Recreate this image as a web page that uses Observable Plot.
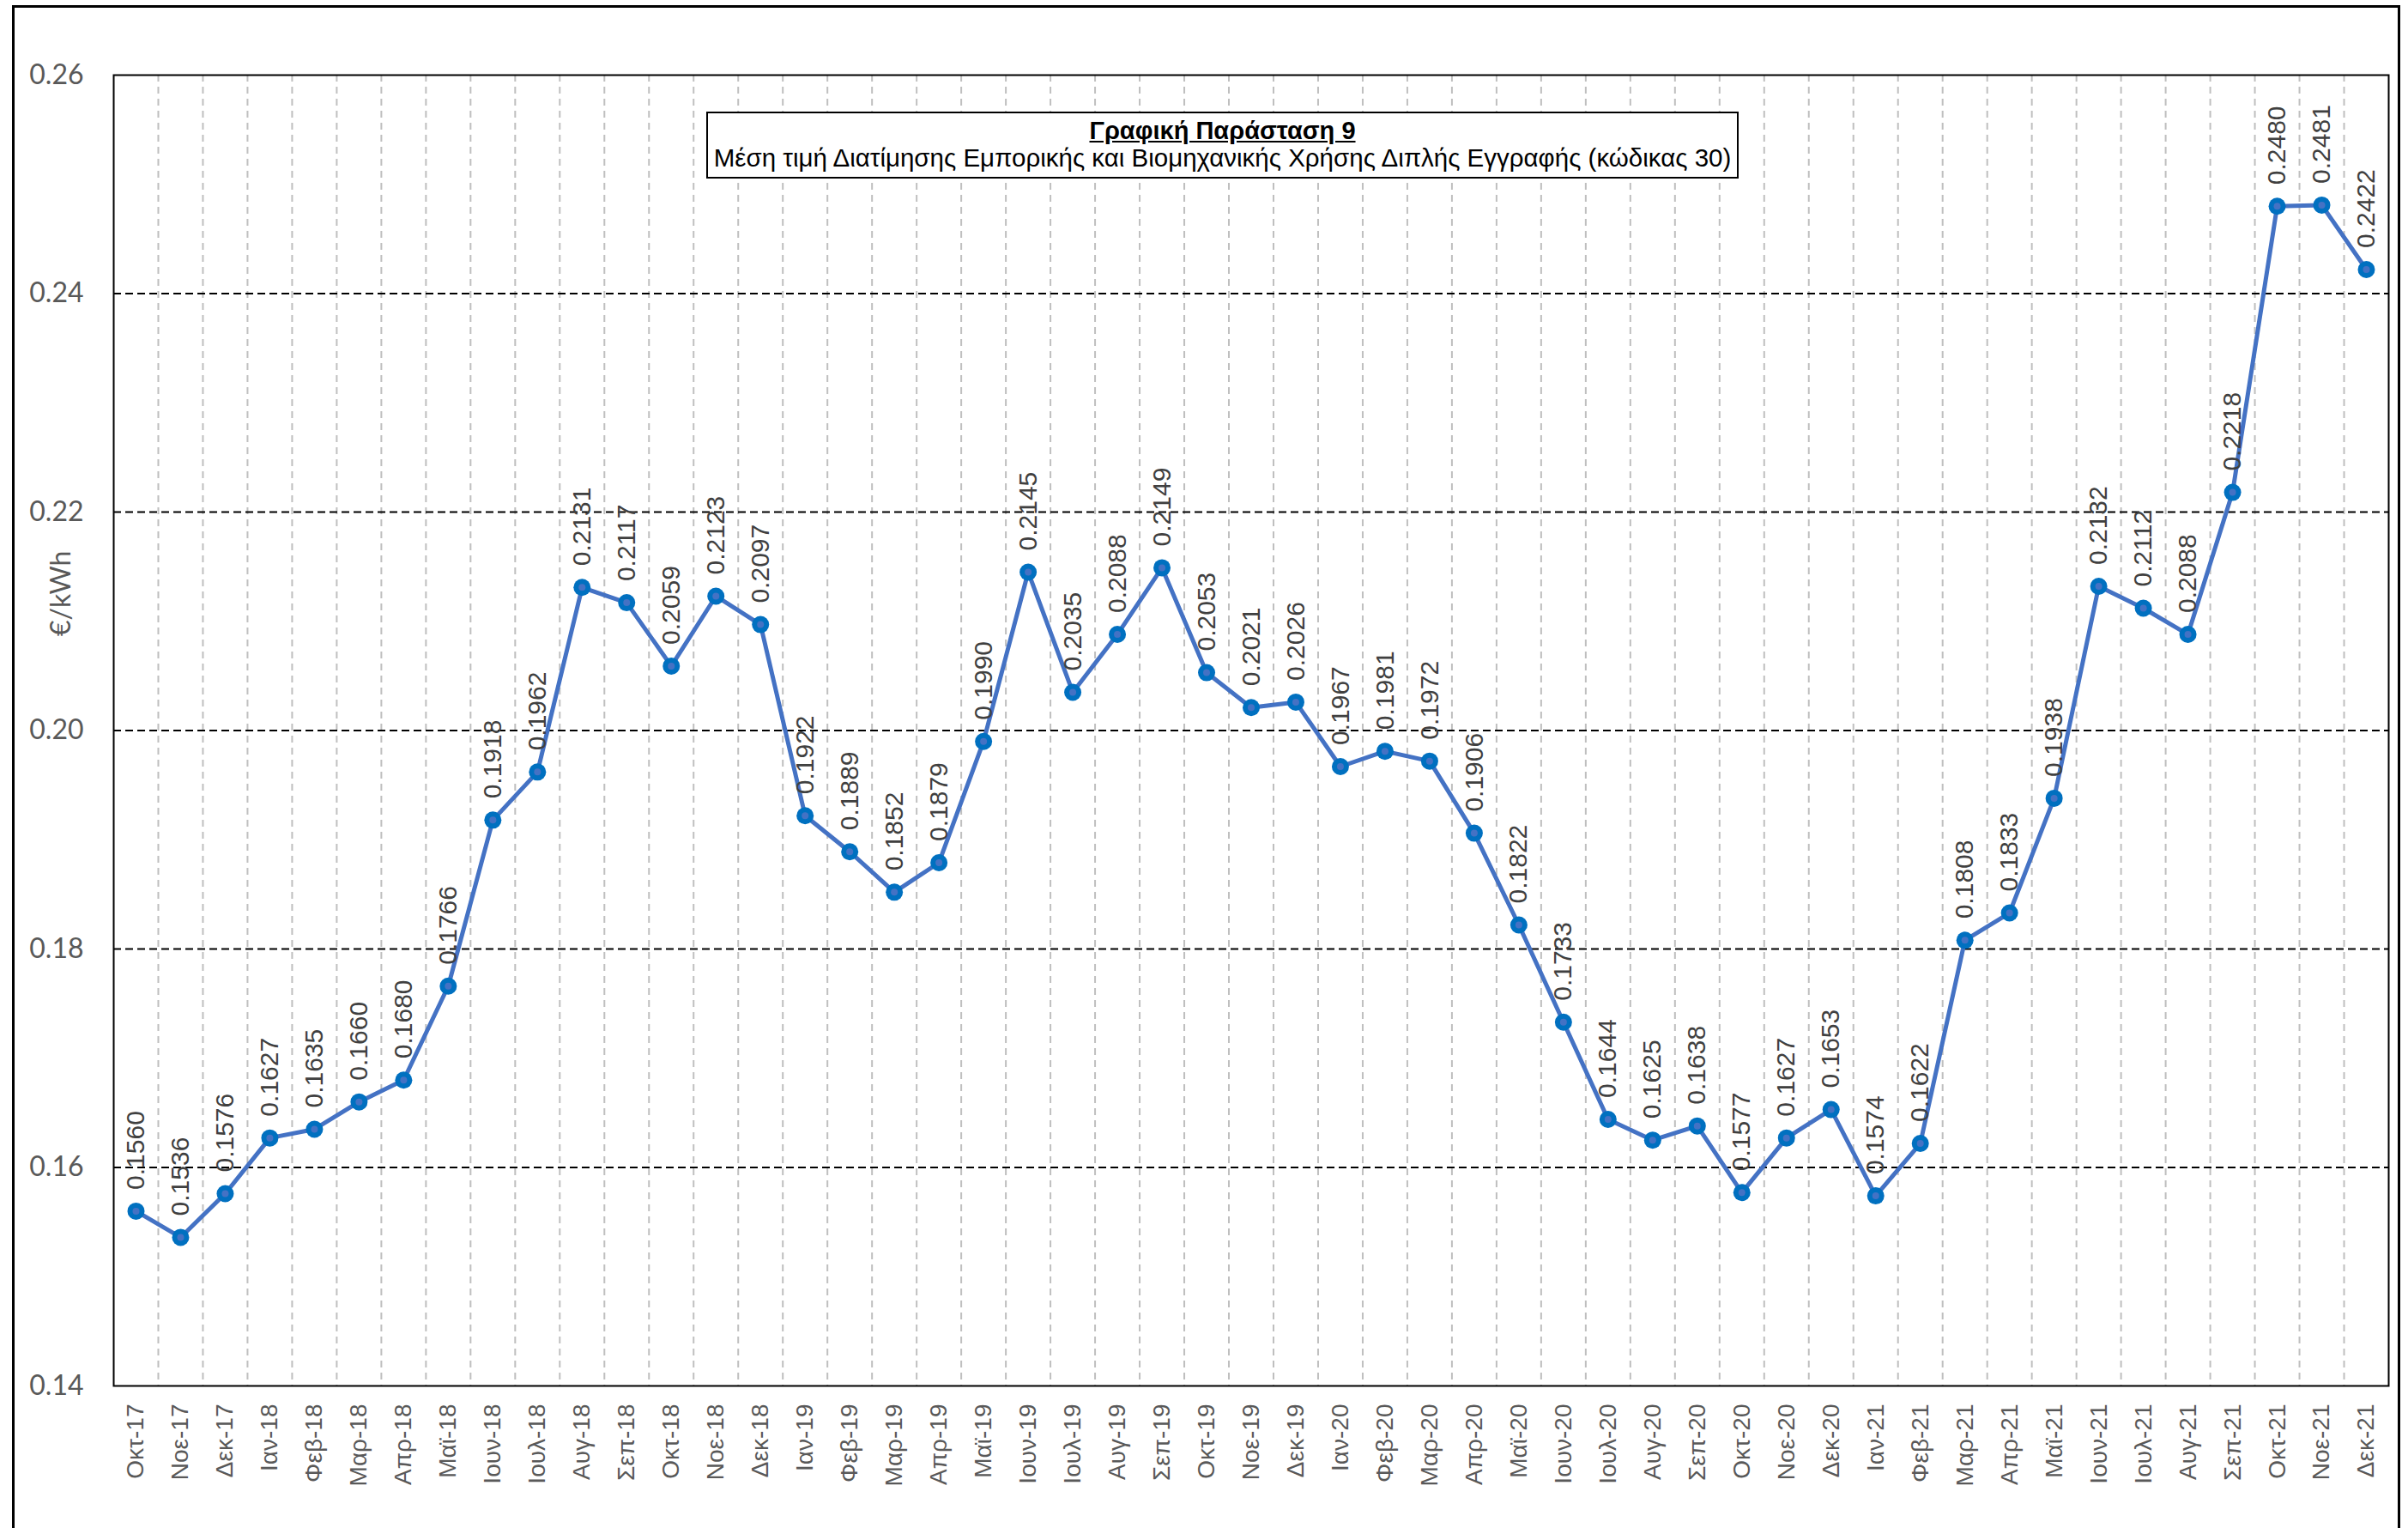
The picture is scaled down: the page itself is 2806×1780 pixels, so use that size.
<!DOCTYPE html>
<html><head><meta charset="utf-8">
<script src="https://cdn.jsdelivr.net/npm/d3@7"></script>
<script src="https://cdn.jsdelivr.net/npm/@observablehq/plot@0.6"></script>
<style>
html,body{margin:0;padding:0;background:#fff;overflow:hidden;}
#wrap{position:relative;width:2806px;height:1780px;}
#chart{position:absolute;left:0;top:0;}
#border{position:absolute;left:14px;top:6px;width:2783px;height:1800px;border:3px solid #000;box-sizing:border-box;pointer-events:none;}
#title{position:absolute;left:823px;top:130px;width:1203px;height:78px;border:2px solid #000;box-sizing:border-box;background:#fff;text-align:center;font-family:"Liberation Sans",Arial,sans-serif;color:#000;}
#t1{font-weight:bold;text-decoration:underline;font-size:29px;line-height:31px;margin-top:5px;}
#t2{font-size:29.5px;line-height:32px;white-space:nowrap;}
</style></head><body>
<div id="wrap"><div id="chart"></div><div id="border"></div>
<div id="title"><div id="t1">Γραφική Παράσταση 9</div><div id="t2">Μέση τιμή Διατίμησης Εμπορικής και Βιομηχανικής Χρήσης Διπλής Εγγραφής (κώδικας 30)</div></div>
</div>
<script>
const months = ["Οκτ-17","Νοε-17","Δεκ-17",
"Ιαν-18","Φεβ-18","Μαρ-18","Απρ-18","Μαϊ-18","Ιουν-18","Ιουλ-18","Αυγ-18","Σεπ-18","Οκτ-18","Νοε-18","Δεκ-18",
"Ιαν-19","Φεβ-19","Μαρ-19","Απρ-19","Μαϊ-19","Ιουν-19","Ιουλ-19","Αυγ-19","Σεπ-19","Οκτ-19","Νοε-19","Δεκ-19",
"Ιαν-20","Φεβ-20","Μαρ-20","Απρ-20","Μαϊ-20","Ιουν-20","Ιουλ-20","Αυγ-20","Σεπ-20","Οκτ-20","Νοε-20","Δεκ-20",
"Ιαν-21","Φεβ-21","Μαρ-21","Απρ-21","Μαϊ-21","Ιουν-21","Ιουλ-21","Αυγ-21","Σεπ-21","Οκτ-21","Νοε-21","Δεκ-21"];
const values = [0.1560,0.1536,0.1576,
0.1627,0.1635,0.1660,0.1680,0.1766,0.1918,0.1962,0.2131,0.2117,0.2059,0.2123,0.2097,
0.1922,0.1889,0.1852,0.1879,0.1990,0.2145,0.2035,0.2088,0.2149,0.2053,0.2021,0.2026,
0.1967,0.1981,0.1972,0.1906,0.1822,0.1733,0.1644,0.1625,0.1638,0.1577,0.1627,0.1653,
0.1574,0.1622,0.1808,0.1833,0.1938,0.2132,0.2112,0.2088,0.2218,0.2480,0.2481,0.2422];
const yTicks = [0.14,0.16,0.18,0.20,0.22,0.24,0.26];
const gridY = [0.16,0.18,0.20,0.22,0.24];
const yLabel = "€/kWh";

const idx = months.map((_, i) => i);
const data = months.map((m, i) => ({i, m, v: values[i]}));
const bounds = months.slice(1).map((_, i) => i + 0.5);

const chart = Plot.plot({
  width: 2806, height: 1780,
  marginLeft: 132, marginRight: 23, marginTop: 87, marginBottom: 166,
  style: {background: "transparent", fontFamily: "'Liberation Sans', Arial, sans-serif", fontSize: "30px", color: "#595959"},
  x: {type: "linear", domain: [-0.5, months.length - 0.5]},
  y: {domain: [0.14, 0.26]},
  marks: [
    Plot.ruleX(bounds, {stroke: "#BFBFBF", strokeWidth: 2, strokeDasharray: "8,6"}),
    Plot.ruleY(gridY, {stroke: "#000", strokeWidth: 2, strokeDasharray: "9,5"}),
    Plot.frame({stroke: "#000", strokeWidth: 2}),
    Plot.axisY({ticks: yTicks, tickFormat: d3.format(".2f"), tickSize: 0, tickPadding: 35, fontSize: 32, fontFamily: "Lato, sans-serif", fill: "#595959", label: null}),
    Plot.axisX({ticks: idx, tickFormat: i => months[i], tickSize: 0, tickPadding: 21, tickRotate: -90, fontSize: 28, fill: "#595959", label: null}),
    Plot.text([yLabel], {frameAnchor: "left", dx: -61, dy: -110, rotate: -90, fontSize: 32, fontFamily: "Lato, sans-serif", fill: "#595959"}),
    Plot.line(data, {x: "i", y: "v", stroke: "#4472C4", strokeWidth: 5}),
    Plot.dot(data, {x: "i", y: "v", r: 10, fill: "#0070C0", stroke: "none"}),
    Plot.dot(data, {x: "i", y: "v", r: 4, fill: "#4472C4", stroke: "none"}),
    Plot.text(data, {x: "i", y: "v", text: d => d.v.toFixed(4), rotate: -90, textAnchor: "start", dy: -25, fontSize: 30, fill: "#404040"})
  ]
});
document.getElementById("chart").appendChild(chart);
</script>
</body></html>
